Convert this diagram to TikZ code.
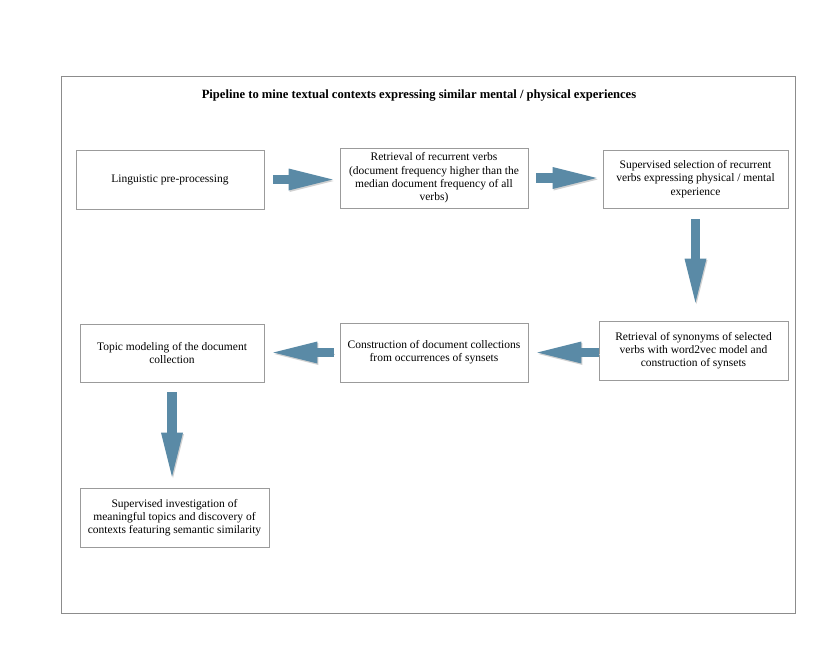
\documentclass[tikz,border=0pt]{standalone}
\usepackage{fontspec}
\setmainfont{Liberation Serif}
\usetikzlibrary{arrows.meta}
\definecolor{arrowblue}{RGB}{90,138,166}
\definecolor{boxgray}{RGB}{155,155,155}
\definecolor{framegray}{RGB}{140,140,140}
\begin{document}
\begin{tikzpicture}[x=1pt,y=-1pt,
  stepbox/.style={draw=boxgray, line width=0.8pt, align=center, inner sep=0pt,
    font=\fontsize{11.5}{13.3}\selectfont},
  flow/.style={draw=arrowblue, line width=9.5pt,
    -{Triangle[length=44pt,width=22pt,line width=0pt]},
    preaction={draw=black!18, transform canvas={shift={(1pt,-1.5pt)}}}},
  titletext/.style={font=\fontsize{12.6}{14}\selectfont\bfseries}]
\useasboundingbox (0,0) rectangle (836,646);
\fill[white] (0,0) rectangle (836,646);

% outer frame and title
\node[draw=framegray, line width=0.8pt, minimum width=734pt, minimum height=537pt, inner sep=0pt]
  (frame) at (428,344.5) {};
\node[titletext] (title) at (419,96) {Pipeline to mine textual contexts expressing similar mental / physical experiences};

% pipeline steps
\node[stepbox, minimum width=188pt, minimum height=59pt] (pre) at (170,179.5)
  {Linguistic pre-processing};
\node[stepbox, minimum width=188pt, minimum height=60pt] (verbs) at (434,178)
  {Retrieval of recurrent verbs\\(document frequency higher than the\\median document frequency of all\\verbs)};
\node[stepbox, minimum width=185pt, minimum height=58pt] (select) at (695.5,179)
  {Supervised selection of recurrent\\verbs expressing physical / mental\\experience};
\node[stepbox, minimum width=189pt, minimum height=59pt] (syn) at (693.5,350.5)
  {Retrieval of synonyms of selected\\verbs with word2vec model and\\construction of synsets};
\node[stepbox, minimum width=188pt, minimum height=59pt] (coll) at (434,352.5)
  {Construction of document collections\\from occurrences of synsets};
\node[stepbox, minimum width=184pt, minimum height=58pt] (topic) at (172,353)
  {Topic modeling of the document\\collection};
\node[stepbox, minimum width=189pt, minimum height=59pt] (invest) at (174.5,517.5)
  {Supervised investigation of\\meaningful topics and discovery of\\contexts featuring semantic similarity};

% block arrows between steps
\draw[flow, shorten <=9pt, shorten >=7pt] (pre.east) -- (pre.east -| verbs.west);
\draw[flow, shorten <=8pt, shorten >=6pt] (verbs.east) -- (verbs.east -| select.west);
\draw[flow, shorten <=11pt, shorten >=18pt] (select.south) -- (select.south |- syn.north);
\draw[flow, shorten <=2pt, shorten >=9pt] (syn.west) -- (syn.west |- coll.east) -- (coll.east);
\draw[flow, shorten <=6pt, shorten >=9pt] (coll.west) -- (coll.west -| topic.east);
\draw[flow, shorten <=10pt, shorten >=11pt] (topic.south) -- (topic.south |- invest.north);
\end{tikzpicture}
\end{document}
